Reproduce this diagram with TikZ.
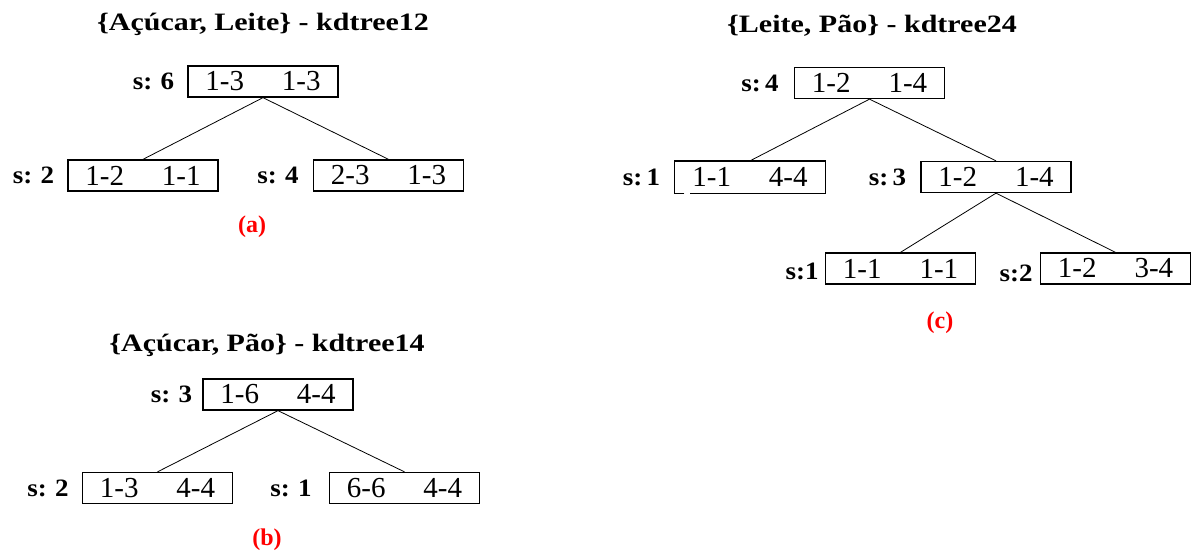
\documentclass[tikz,border=0pt]{standalone}
\usepackage{fontspec}
\setmainfont{Liberation Serif}
\newfontfamily\titlefont[FakeStretch=1.2]{Liberation Serif}
\newfontfamily\labelfont[FakeStretch=1.08]{Liberation Serif}
\begin{document}
\begin{tikzpicture}[x=1pt,y=-1pt,
  kbox/.style={draw, line width=1.3pt, minimum width=150pt, minimum height=31pt,
    inner sep=0pt, font=\fontsize{29}{29}\selectfont},
  slbl/.style={anchor=east, inner sep=0pt, font=\labelfont\fontsize{25}{25}\selectfont\bfseries},
  ttl/.style={inner sep=0pt, font=\titlefont\fontsize{25}{25}\selectfont\bfseries},
  capt/.style={inner sep=0pt, text=red, font=\fontsize{24}{24}\selectfont\bfseries},
  edge/.style={line width=0.8pt}]
\useasboundingbox (0,0) rectangle (1191,554);
\newcommand{\pair}[2]{#1\hspace{38pt}#2}

% kd-tree (a)
\node[ttl] (ta) at (263,24) {\{Açúcar, Leite\} - kdtree12};
\node[kbox] (a0) at (263,81.5) {\pair{1-3}{1-3}};
\node[kbox] (a1) at (143,175.5) {\pair{1-2}{1-1}};
\node[kbox] (a2) at (388.5,175.5) {\pair{2-3}{1-3}};
\node[slbl] (sa0) at ([xshift=-13pt]a0.west) {s:\,\,6};
\node[slbl] (sa1) at ([xshift=-13pt]a1.west) {s:\,\,2};
\node[slbl] (sa2) at ([xshift=-14pt]a2.west) {s:\,\,4};
\draw[edge] (a0.south) -- (a1.north);
\draw[edge] (a0.south) -- (a2.north);
\node[capt] (ca) at (252,227) {(a)};

% kd-tree (b)
\node[ttl] (tb) at (267,345) {\{Açúcar, Pão\} - kdtree14};
\node[kbox] (b0) at (278,394.5) {\pair{1-6}{4-4}};
\node[kbox] (b1) at (157.5,488) {\pair{1-3}{4-4}};
\node[kbox] (b2) at (404.5,488) {\pair{6-6}{4-4}};
\node[slbl] (sb0) at ([xshift=-10pt]b0.west) {s:\,\,3};
\node[slbl] (sb1) at ([xshift=-13pt]b1.west) {s:\,\,2};
\node[slbl] (sb2) at ([xshift=-17pt]b2.west) {s:\,\,1};
\draw[edge] (b0.south) -- (b1.north);
\draw[edge] (b0.south) -- (b2.north);
\node[capt] (cb) at (267,540) {(b)};

% kd-tree (c)
\node[ttl] (tc) at (872,26) {\{Leite, Pão\} - kdtree24};
\node[kbox] (c0) at (869.5,83) {\pair{1-2}{1-4}};
% this box's lower border is broken just right of its corner
\node[kbox, draw=none] (c1) at (750,177) {\pair{1-1}{4-4}};
\draw[line width=1.3pt] ([xshift=10pt]c1.south west) -- (c1.south west)
  -- (c1.north west) -- (c1.north east) -- (c1.south east)
  -- ([xshift=16pt]c1.south west);
\node[kbox] (c2) at (996,177) {\pair{1-2}{1-4}};
\node[kbox] (c3) at (900.5,268.5) {\pair{1-1}{1-1}};
\node[kbox] (c4) at (1115.5,268.5) {\pair{1-2}{3-4}};
\node[slbl] (sc0) at ([xshift=-15pt]c0.west) {s:\,4};
\node[slbl] (sc1) at ([xshift=-14pt]c1.west) {s:\,1};
\node[slbl] (sc2) at ([xshift=-14pt]c2.west) {s:\,3};
\node[slbl] (sc3) at ([xshift=-6pt,yshift=-3pt]c3.west) {s:1};
\node[slbl] (sc4) at ([xshift=-7pt,yshift=-5pt]c4.west) {s:2};
\draw[edge] (c0.south) -- (c1.north);
\draw[edge] (c0.south) -- (c2.north);
\draw[edge] (c2.south) -- (c3.north);
\draw[edge] (c2.south) -- (c4.north);
\node[capt] (cc) at (940,323) {(c)};
\end{tikzpicture}
\end{document}
